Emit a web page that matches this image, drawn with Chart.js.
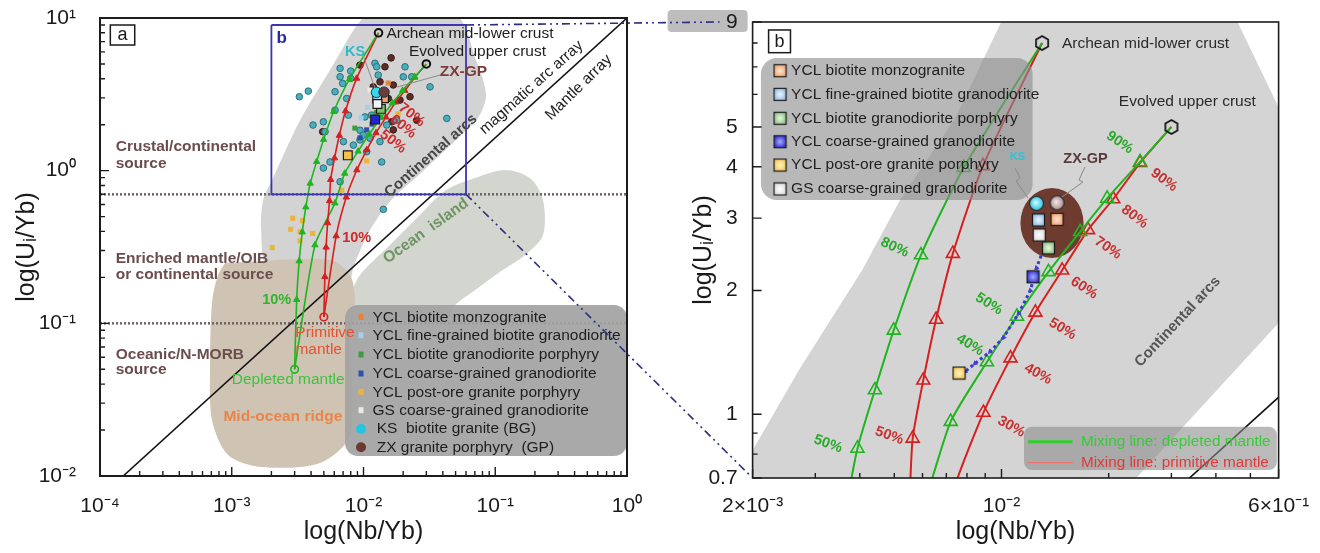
<!DOCTYPE html>
<html lang="en">
<head>
<meta charset="utf-8">
<title>log(U/Yb) vs log(Nb/Yb)</title>
<script src="https://cdn.jsdelivr.net/npm/chart.js@4.4.1/dist/chart.umd.min.js"></script>
<style>
  html, body { margin: 0; padding: 0; background: #ffffff; }
  #stage { position: relative; width: 1320px; height: 553px; overflow: hidden; }
  #stage canvas { position: absolute; left: 0; top: 0; }
</style>
</head>
<body>
<div id="stage">
  <canvas id="panelA" width="1320" height="553"></canvas>
  <canvas id="panelB" width="1320" height="553"></canvas>
</div>
<script>
const FONT = '"Liberation Sans", Arial, Helvetica, sans-serif';

/* ---------- axis ranges and labelled ticks ---------- */
const aXRange = [1e-4, 1];
const aYRange = [0.01, 10];
const bXRange = [0.002, 0.06];
const bYRange = [0.7, 9];
const aXTicks = [1e-4, 1e-3, 1e-2, 1e-1, 1];
const aXTickText = ['10⁻⁴', '10⁻³', '10⁻²', '10⁻¹', '10⁰'];
const aYTicks = [0.01, 0.1, 1, 10];
const aYTickText = ['10⁻²', '10⁻¹', '10⁰', '10¹'];
const bXTicks = [0.002, 0.01, 0.06];
const bXTickText = ['2×10⁻³', '10⁻²', '6×10⁻¹'];
const bYTicks = [0.7, 1, 2, 3, 4, 5, 9];
const bYTickText = ['0.7', '1', '2', '3', '4', '5', '9'];

/* ---------- source boundaries and mantle array ---------- */
const sourceBoundaryU = [0.7, 0.1];
const mantleArrayNb = [1.5e-4, 1];
const mantleArrayU = [0.01, 10];

/* ---------- end-members: Archean crust, upper crust, DM, PM ---------- */
const endNb = [0.013, 0.030, 0.003, 0.005];
const endU = [8.0, 5.0, 0.05, 0.11];

/* ---------- mixing lines, 0 % to 100 % crust in 10 % steps ---------- */
const dmArcNb = [0.0030, 0.00311, 0.00325, 0.00343, 0.00365, 0.00394, 0.00441, 0.00498, 0.00594, 0.00783, 0.0130];
const dmArcU = [0.050, 0.143, 0.256, 0.396, 0.577, 0.826, 1.146, 1.60, 2.44, 3.98, 8.0];
const pmArcNb = [0.0050, 0.00509, 0.0052, 0.00534, 0.00552, 0.00563, 0.00603, 0.00655, 0.0073, 0.00887, 0.0130];
const pmArcU = [0.110, 0.202, 0.315, 0.455, 0.634, 0.874, 1.21, 1.70, 2.46, 4.02, 8.0];
const dmEucNb = [0.0030, 0.00428, 0.00607, 0.0072, 0.0091, 0.01105, 0.01355, 0.01663, 0.0198, 0.0245, 0.030];
const dmEucU = [0.050, 0.326, 0.613, 0.96, 1.34, 1.73, 2.22, 2.78, 3.35, 4.11, 5.0];
const pmEucNb = [0.0050, 0.0062, 0.0074, 0.0089, 0.0106, 0.01245, 0.0148, 0.0175, 0.0206, 0.0245, 0.030];
const pmEucU = [0.110, 0.373, 0.67, 1.01, 1.37, 1.77, 2.24, 2.81, 3.34, 4.09, 5.0];

/* ---------- individual analyses ---------- */
const ksNb = [0.00326, 0.00381, 0.00664, 0.00664, 0.0080, 0.0080, 0.01222, 0.01259, 0.01294, 0.02066, 0.02005, 0.02323, 0.0320, 0.00608, 0.00745, 0.00608, 0.00768, 0.00496, 0.00511, 0.0094, 0.00995, 0.0112, 0.0094, 0.01057, 0.00704, 0.00557, 0.00496, 0.01374, 0.0429, 0.01786, 0.00664, 0.01153, 0.01416, 0.0150, 0.01334, 0.00838, 0.01026, 0.00414, 0.00695];
const ksU = [3.05, 3.32, 4.68, 4.12, 4.49, 4.02, 5.05, 4.79, 4.23, 4.79, 4.12, 4.12, 3.54, 3.29, 2.97, 2.49, 2.31, 2.09, 1.80, 1.84, 1.71, 1.63, 1.59, 1.33, 1.55, 1.14, 1.04, 1.14, 2.20, 2.14, 0.846, 2.31, 0.558, 1.99, 1.55, 1.47, 2.25, 1.99, 3.73];
const zxNb = [0.0162, 0.01455, 0.02254, 0.01637, 0.01683, 0.0049, 0.01334, 0.01683, 0.01186, 0.01542, 0.01892, 0.02535, 0.0094];
const zxU = [5.48, 4.79, 3.05, 2.09, 1.85, 1.80, 3.82, 3.64, 3.54, 2.97, 2.90, 2.14, 4.92];
const monzoNb = [0.0154, 0.0135];
const monzoU = [3.75, 3.2];
const fineNb = [0.00957, 0.0107, 0.0118];
const fineU = [2.21, 2.6, 1.75];
const porphNb = [0.0086, 0.0125];
const porphU = [1.90, 2.4];
const coarseNb = [0.01057, 0.01161, 0.0094];
const coarseU = [1.85, 2.02, 1.64];
const postOreNb = [0.0029, 0.0028, 0.00345, 0.0033, 0.00411, 0.0033, 0.00203, 0.00684, 0.01057, 0.0183];
const postOreU = [0.488, 0.413, 0.47, 0.398, 0.388, 0.347, 0.313, 0.746, 1.16, 2.35];
const gsNb = [0.0112, 0.01406, 0.0125];
const gsU = [3.37, 3.37, 2.9];

/* ---------- group means ---------- */
const groupNames = ['YCL biotite monzogranite', 'YCL fine-grained biotite granodiorite', 'YCL biotite granodiorite porphyry',
  'YCL coarse-grained granodiorite', 'YCL post-ore granite porphyry', 'GS coarse-grained granodiorite',
  'KS  biotite granite (BG)', 'ZX granite porphyry  (GP)'];
const meanNb = [0.01432, 0.0127, 0.01355, 0.01226, 0.0076, 0.01276, 0.01254, 0.01432];
const meanU = [2.98, 2.97, 2.54, 2.16, 1.26, 2.73, 3.26, 3.27];

/* ---------- YCL evolution trend ---------- */
const trendNb = [0.0131, 0.01254, 0.01205, 0.01117, 0.01014, 0.00929, 0.00843, 0.0079];
const trendU = [2.51, 2.27, 2.00, 1.76, 1.54, 1.42, 1.33, 1.27];

/* ---------- tectonic fields ---------- */
const arcFieldNbA = [0.01045, 0.0496, 0.0714, 0.0851, 0.0740, 0.0569, 0.0273, 0.0162, 0.0112, 0.0085, 0.0074, 0.0055, 0.0019, 0.00167, 0.00173, 0.00202, 0.0033, 0.00557, 0.0086, 0.01045];
const arcFieldUA = [10.5, 10.5, 5.3, 3.13, 2.21, 1.76, 0.964, 0.641, 0.408, 0.24, 0.16, 0.22, 0.23, 0.408, 0.641, 0.867, 2.14, 4.56, 8.6, 10.5];
const ridgeNb = [0.00089, 0.00557, 0.0079, 0.0086, 0.0079, 0.0079, 0.00468, 0.00167, 0.000937, 0.000708, 0.000684, 0.000708, 0.000787, 0.00089];
const ridgeU = [0.248, 0.26, 0.207, 0.142, 0.0778, 0.0186, 0.01217, 0.01146, 0.01374, 0.0233, 0.0494, 0.136, 0.207, 0.248];
const oibNb = [0.00818, 0.0079, 0.0094, 0.0159, 0.0268, 0.0423, 0.0701, 0.1186, 0.1837, 0.2304, 0.2304, 0.1683, 0.1086, 0.0701, 0.0496, 0.0416, 0.00818];
const oibU = [0.105, 0.142, 0.207, 0.326, 0.512, 0.746, 0.894, 1.01, 0.894, 0.641, 0.379, 0.28, 0.217, 0.165, 0.132, 0.105, 0.105];
const arcFieldNbB = [0.002, 0.002, 0.00272, 0.00406, 0.00519, 0.00741, 0.00998, 0.046, 0.06, 0.06, 0.0239, 0.002];
const arcFieldUB = [0.7, 0.818, 1.296, 2.24, 3.32, 5.25, 9.0, 9.0, 5.58, 1.667, 0.7, 0.7];
/* ZX-GP / KS cluster outline */
const clusterNb = [0.0113, 0.0170];
const clusterU = [2.40, 3.55];

/* ---------- helpers ---------- */
const xy = (xs, ys) => xs.map((x, i) => ({ x, y: ys[i] }));

function labelFor(values, texts) {
  return (v) => {
    for (let i = 0; i < values.length; i++) {
      if (Math.abs(Math.log10(v) - Math.log10(values[i])) < 1e-6) return texts[i];
    }
    return '';
  };
}
function decadeTicks(scale) {
  const out = [];
  const lo = scale.min, hi = scale.max;
  for (let e = Math.floor(Math.log10(lo)); e <= Math.ceil(Math.log10(hi)); e++) {
    for (let m = 1; m <= 9; m++) {
      const v = parseFloat((m * Math.pow(10, e)).toPrecision(8));
      if (v >= lo * (1 - 1e-9) && v <= hi * (1 + 1e-9)) out.push({ value: v });
    }
  }
  scale.ticks = out;
}
function logAxis(range, tv, tt, title, o) {
  return {
    type: 'logarithmic', min: range[0], max: range[1], bounds: 'data',
    afterBuildTicks: decadeTicks,
    afterFit: (s) => {
      if (o.width) s.width = o.width;
      if (o.height) s.height = o.height;
      s.paddingTop = 0; s.paddingBottom = 0; s.paddingLeft = 0; s.paddingRight = 0;
    },
    grid: { display: false, drawTicks: false },
    border: { display: false },
    ticks: { autoSkip: false, maxRotation: 0, minRotation: 0, padding: o.pad, color: '#1a1a1a',
      font: { family: FONT, size: 21 }, callback: labelFor(tv, tt) },
    title: { display: true, text: title, color: '#1a1a1a', font: { family: FONT, size: 25 }, padding: o.titlePad }
  };
}
function region(xs, ys, color, order, tension) {
  return { data: xy(xs, ys), showLine: true, fill: 'shape', backgroundColor: color,
    borderColor: 'rgba(0,0,0,0)', borderWidth: 0, pointRadius: 0, tension: tension, order: order };
}
function mixLine(xs, ys, color, o) {
  const n = xs.length;
  return { data: xy(xs, ys), showLine: true, fill: false, borderColor: color, borderWidth: o.lw, tension: 0.2,
    pointStyle: 'triangle', pointRadius: xs.map((_, i) => (i === 0 || i === n - 1) ? 0 : o.r),
    pointBackgroundColor: o.hollow ? 'rgba(0,0,0,0)' : color, pointBorderColor: color,
    pointBorderWidth: o.pbw, order: o.order };
}
function marks(xs, ys, o) {
  return { data: xy(xs, ys), showLine: false, pointStyle: o.style, pointRadius: o.r,
    pointBackgroundColor: o.fill, pointBorderColor: o.edge || o.fill, pointBorderWidth: o.bw || 0,
    pointRotation: o.rot || 0, order: o.order };
}
function straight(xs, ys, color, lw, dash, order) {
  return { data: xy(xs, ys), showLine: true, fill: false, borderColor: color, borderWidth: lw,
    borderDash: dash || [], pointRadius: 0, tension: 0, order: order };
}
function gradSquare(side, inner, outer) {
  const c = document.createElement('canvas'); const s = side + 2; c.width = c.height = s;
  const g = c.getContext('2d');
  const gr = g.createRadialGradient(s / 2, s / 2, 0, s / 2, s / 2, side * 0.65);
  gr.addColorStop(0, inner); gr.addColorStop(1, outer);
  g.fillStyle = gr; g.fillRect(1, 1, side, side);
  g.lineWidth = 1.2; g.strokeStyle = '#1a1a1a'; g.strokeRect(1.5, 1.5, side - 1, side - 1);
  return c;
}
function gradDisc(d, inner, outer, edge) {
  const c = document.createElement('canvas'); const s = d + 2; c.width = c.height = s;
  const g = c.getContext('2d');
  const gr = g.createRadialGradient(s / 2 - 1, s / 2 - 1, 0, s / 2, s / 2, d / 2);
  gr.addColorStop(0, inner); gr.addColorStop(1, outer);
  g.beginPath(); g.arc(s / 2, s / 2, d / 2 - 0.5, 0, Math.PI * 2);
  g.fillStyle = gr; g.fill(); g.lineWidth = 1.2; g.strokeStyle = edge; g.stroke();
  return c;
}
function hexMark(r) {
  const c = document.createElement('canvas'); const s = Math.ceil(2 * r + 4); c.width = c.height = s;
  const g = c.getContext('2d');
  g.beginPath();
  for (let i = 0; i < 6; i++) {
    const a = -Math.PI / 2 + i * Math.PI / 3;
    const x = s / 2 + r * Math.cos(a), y = s / 2 + r * Math.sin(a);
    if (i) g.lineTo(x, y); else g.moveTo(x, y);
  }
  g.closePath(); g.lineWidth = 1.7; g.strokeStyle = '#111'; g.stroke();
  return c;
}
function roundRect(ctx, x, y, w, h, r) {
  ctx.beginPath();
  ctx.moveTo(x + r, y);
  ctx.arcTo(x + w, y, x + w, y + h, r);
  ctx.arcTo(x + w, y + h, x, y + h, r);
  ctx.arcTo(x, y + h, x, y, r);
  ctx.arcTo(x, y, x + w, y, r);
  ctx.closePath();
}
const fxPx = (ca, f) => ca.left + f * ca.width;
const fyPx = (ca, f) => ca.top + f * ca.height;
function drawNotes(ctx, ca, list) {
  list.forEach(a => {
    ctx.save();
    ctx.translate(fxPx(ca, a.fx), fyPx(ca, a.fy));
    if (a.rot) ctx.rotate(a.rot * Math.PI / 180);
    ctx.font = (a.bold ? 'bold ' : '') + a.size + 'px ' + FONT;
    ctx.fillStyle = a.color;
    ctx.textAlign = a.align || 'center';
    ctx.textBaseline = 'middle';
    ctx.fillText(a.t, 0, 0);
    ctx.restore();
  });
}
function drawPolyline(ctx, ca, pts, color, lw) {
  ctx.save(); ctx.strokeStyle = color; ctx.lineWidth = lw; ctx.beginPath();
  pts.forEach((p, i) => { const x = fxPx(ca, p[0]), y = fyPx(ca, p[1]); if (i) ctx.lineTo(x, y); else ctx.moveTo(x, y); });
  ctx.stroke(); ctx.restore();
}
function drawFrameAndTicks(chart, lw) {
  const { ctx, chartArea: ca, scales } = chart;
  ctx.save();
  ctx.strokeStyle = '#1c1c1c';
  ctx.lineWidth = 1.4;
  ctx.beginPath();
  scales.x.ticks.forEach(t => {
    const x = scales.x.getPixelForValue(t.value);
    const len = t.label ? 9 : 5;
    ctx.moveTo(x, ca.bottom); ctx.lineTo(x, ca.bottom - len);
  });
  scales.y.ticks.forEach(t => {
    const y = scales.y.getPixelForValue(t.value);
    const len = t.label ? 9 : 5;
    ctx.moveTo(ca.left, y); ctx.lineTo(ca.left + len, y);
  });
  ctx.stroke();
  ctx.lineWidth = lw;
  ctx.strokeRect(ca.left, ca.top, ca.width, ca.height);
  ctx.restore();
}
function panelTag(ctx, ca, box, letter) {
  const x0 = fxPx(ca, box[0]), y0 = fyPx(ca, box[1]), x1 = fxPx(ca, box[2]), y1 = fyPx(ca, box[3]);
  ctx.save();
  ctx.fillStyle = '#ffffff'; ctx.fillRect(x0, y0, x1 - x0, y1 - y0);
  ctx.strokeStyle = '#1a1a1a'; ctx.lineWidth = 1.5; ctx.strokeRect(x0, y0, x1 - x0, y1 - y0);
  ctx.fillStyle = '#1a1a1a'; ctx.font = '18px ' + FONT; ctx.textAlign = 'center'; ctx.textBaseline = 'middle';
  ctx.fillText(letter, (x0 + x1) / 2, (y0 + y1) / 2 + 0.5);
  ctx.restore();
}

/* ---------- marker styles ---------- */
const GREEN = '#1fb51f';
const RED = '#d61f1f';
const smallSquareColors = ['#e8833a', '#a9cdea', '#3f9b3f', '#2f4fb0', '#ebb43a', '#ece8e2'];
const meanFillsA = ['#f0a066', '#a7cdee', '#7cbf6c', '#2424d0', '#f4c24a', '#f4f4f4', '#3ad6ee', '#6a3d38'];
const gradColorsB = [['#fde4d0', '#f29660'], ['#eef6ff', '#7aaee0'], ['#eaf7e4', '#74b866'], ['#a8acff', '#1212c4'],
  ['#fff6c8', '#f2bc36'], ['#ffffff', '#d4d4d4'], ['#d6fbff', '#1cc4e6'], ['#f6ecec', '#a88a8a']];
const meanImagesB = gradColorsB.map((c, i) => i < 6 ? gradSquare(13, c[0], c[1]) : gradDisc(15, c[0], c[1], '#2a2a2a'));
const hexImage = hexMark(7);

/* ---------- annotations (positions as fractions of the plot area) ---------- */
const notesA = [
  { t: 'Archean mid-lower crust', fx: .5435, fy: .0334, align: 'left', size: 15.5, color: '#1e1e1e' },
  { t: 'Evolved upper crust', fx: .5863, fy: .0736, align: 'left', size: 15.5, color: '#1e1e1e' },
  { t: 'ZX-GP', fx: .6448, fy: .117, align: 'left', size: 15.5, bold: true, color: '#7a3c3c' },
  { t: 'KS', fx: .484, fy: .0736, size: 14.5, bold: true, color: '#2fb9cc' },
  { t: 'b', fx: .345, fy: .0443, size: 17, bold: true, color: '#2a2aa0' },
  { t: '70%', fx: .5914, fy: .2118, size: 14.5, bold: true, color: '#d02a2a', rot: 38 },
  { t: '60%', fx: .575, fy: .2373, size: 14.5, bold: true, color: '#d02a2a', rot: 38 },
  { t: '50%', fx: .556, fy: .270, size: 14.5, bold: true, color: '#d02a2a', rot: 38 },
  { t: '10%', fx: .487, fy: .481, size: 14.5, bold: true, color: '#d02a2a' },
  { t: '10%', fx: .3353, fy: .6157, size: 14.5, bold: true, color: '#2fb52f' },
  { t: 'Crustal/continental', fx: .0298, fy: .281, align: 'left', size: 15.5, bold: true, color: '#6b4d4d' },
  { t: 'source', fx: .0298, fy: .3173, align: 'left', size: 15.5, bold: true, color: '#6b4d4d' },
  { t: 'Enriched mantle/OIB', fx: .0298, fy: .5247, align: 'left', size: 15.5, bold: true, color: '#6b4d4d' },
  { t: 'or continental source', fx: .0298, fy: .561, align: 'left', size: 15.5, bold: true, color: '#6b4d4d' },
  { t: 'Oceanic/N-MORB', fx: .0298, fy: .7358, align: 'left', size: 15.5, bold: true, color: '#6b4d4d' },
  { t: 'source', fx: .0298, fy: .7686, align: 'left', size: 15.5, bold: true, color: '#6b4d4d' },
  { t: 'Ocean  island', fx: .6186, fy: .465, rot: -35.6, size: 15.5, bold: true, color: '#6f9462' },
  { t: 'Continental arcs', fx: .628, fy: .301, rot: -41.4, size: 15, bold: true, color: '#454545' },
  { t: 'magmatic arc array', fx: .8186, fy: .1517, rot: -41.6, size: 15.5, color: '#222' },
  { t: 'Mantle array', fx: .9083, fy: .1517, rot: -44.4, size: 15.5, color: '#222' },
  { t: 'Depleted mantle', fx: .357, fy: .790, size: 15.5, color: '#3ec23e' },
  { t: 'Mid-ocean ridge', fx: .347, fy: .8705, size: 15.5, bold: true, color: '#ea8448' },
  { t: 'Primitive', fx: .427, fy: .688, size: 15.5, color: '#e8502e' },
  { t: 'mantle', fx: .415, fy: .725, size: 15.5, color: '#e8502e' }
];
const notesB = [
  { t: 'Archean mid-lower crust', fx: .5882, fy: .0467, align: 'left', size: 15.5, color: '#2a2a2a' },
  { t: 'Evolved upper crust', fx: .6962, fy: .1748, align: 'left', size: 15.5, color: '#2a2a2a' },
  { t: 'ZX-GP', fx: .5907, fy: .3011, align: 'left', size: 14.5, bold: true, color: '#5a3a3a' },
  { t: 'KS', fx: .5036, fy: .2954, size: 11, bold: true, color: '#22c8e0' },
  { t: 'Continental arcs', fx: .8082, fy: .6572, rot: -46.9, size: 15, bold: true, color: '#555555' },
  { t: '90%', fx: .698, fy: .2643, rot: 34, size: 14.5, bold: true, color: '#2aa82a' },
  { t: '90%', fx: .7821, fy: .3465, rot: 36, size: 14.5, bold: true, color: '#c83030' },
  { t: '80%', fx: .7262, fy: .427, rot: 37, size: 14.5, bold: true, color: '#c83030' },
  { t: '70%', fx: .6757, fy: .4956, rot: 34, size: 14.5, bold: true, color: '#c83030' },
  { t: '60%', fx: .630, fy: .5833, rot: 33, size: 14.5, bold: true, color: '#c83030' },
  { t: '50%', fx: .5892, fy: .6732, rot: 31, size: 14.5, bold: true, color: '#c83030' },
  { t: '40%', fx: .5426, fy: .7719, rot: 29, size: 14.5, bold: true, color: '#c83030' },
  { t: '30%', fx: .492, fy: .8875, rot: 29, size: 14.5, bold: true, color: '#c83030' },
  { t: '50%', fx: .4494, fy: .6184, rot: 32, size: 14.5, bold: true, color: '#2aa82a' },
  { t: '40%', fx: .4133, fy: .7083, rot: 31, size: 14.5, bold: true, color: '#2aa82a' },
  { t: '80%', fx: .270, fy: .4945, rot: 25, size: 14.5, bold: true, color: '#2aa82a' },
  { t: '50%', fx: .1433, fy: .9254, rot: 20, size: 14.5, bold: true, color: '#2aa82a' },
  { t: '50%', fx: .260, fy: .907, rot: 20, size: 14.5, bold: true, color: '#c83030' }
];

/* ---------- panel a ---------- */
const panelAPlugin = {
  id: 'panelA',
  afterDatasetsDraw(chart) {
    const { ctx, chartArea: ca } = chart;
    // leader lines for KS and ZX-GP
    drawPolyline(ctx, ca, [[.499, .0808], [.5218, .1528]], '#8a8a8a', 1);
    drawPolyline(ctx, ca, [[.6452, .1245], [.5636, .1507]], '#8a8a8a', 1);
    // legend
    const x0 = fxPx(ca, .465), y0 = fyPx(ca, .6266), x1 = fxPx(ca, 1.0), y1 = fyPx(ca, .9563);
    ctx.save();
    roundRect(ctx, x0, y0, x1 - x0, y1 - y0, 13);
    ctx.fillStyle = 'rgba(163,163,163,0.93)'; ctx.fill();
    const rows = [.6535, .6937, .7358, .7773, .8173, .8574, .8974, .9373];
    ctx.font = '15.5px ' + FONT; ctx.textBaseline = 'middle'; ctx.textAlign = 'left';
    groupNames.forEach((name, i) => {
      const y = fyPx(ca, rows[i]); const mx = fxPx(ca, .4953);
      if (i < 6) {
        ctx.fillStyle = smallSquareColors[i]; ctx.fillRect(mx - 2.5, y - 3.5, 5, 6);
      } else {
        ctx.beginPath(); ctx.arc(mx, y, 5, 0, Math.PI * 2);
        ctx.fillStyle = i === 6 ? '#22c6e2' : '#6a3a30'; ctx.fill();
      }
      ctx.fillStyle = '#1e1e1e';
      ctx.fillText(name, fxPx(ca, i < 6 ? .5171 : .525), y);
    });
    ctx.restore();
    drawNotes(ctx, ca, notesA);
    panelTag(ctx, ca, [.0196, .0153, .0659, .059], 'a');
  },
  afterDraw(chart) { drawFrameAndTicks(chart, 2); }
};

const chartA = new Chart(document.getElementById('panelA'), {
  type: 'scatter',
  data: {
    datasets: [
      region(arcFieldNbA, arcFieldUA, '#d3d3d3', 99, 0.3),
      region(oibNb, oibU, '#d2d6ce', 98, 0.3),
      region(ridgeNb, ridgeU, '#cfc4b4', 97, 0.3),
      straight([aXRange[0], aXRange[1]], [sourceBoundaryU[0], sourceBoundaryU[0]], '#6e6262', 2.5, [2, 2], 85),
      straight([aXRange[0], aXRange[1]], [sourceBoundaryU[1], sourceBoundaryU[1]], '#6e6262', 2.5, [2, 2], 85),
      straight(mantleArrayNb, mantleArrayU, '#111111', 1.6, [], 84),
      marks(ksNb, ksU, { style: 'circle', r: 3.3, fill: '#4aaebd', edge: '#2b6f7a', bw: 1, order: 50 }),
      marks(zxNb, zxU, { style: 'circle', r: 3.3, fill: '#5c2c28', edge: '#3a1a18', bw: 1, order: 50 }),
      marks(monzoNb, monzoU, { style: 'rect', r: 3.6, fill: smallSquareColors[0], order: 49 }),
      marks(fineNb, fineU, { style: 'rect', r: 3.6, fill: smallSquareColors[1], order: 49 }),
      marks(porphNb, porphU, { style: 'rect', r: 3.6, fill: smallSquareColors[2], order: 49 }),
      marks(coarseNb, coarseU, { style: 'rect', r: 3.6, fill: smallSquareColors[3], order: 49 }),
      marks(postOreNb, postOreU, { style: 'rect', r: 3.6, fill: smallSquareColors[4], order: 49 }),
      marks(gsNb, gsU, { style: 'rect', r: 3.6, fill: smallSquareColors[5], order: 49 }),
      mixLine(dmArcNb, dmArcU, GREEN, { lw: 1.6, r: 3.6, pbw: 1, order: 40 }),
      mixLine(pmArcNb, pmArcU, RED, { lw: 1.6, r: 3.6, pbw: 1, order: 40 }),
      mixLine(dmEucNb, dmEucU, GREEN, { lw: 1.6, r: 3.6, pbw: 1, order: 40 }),
      mixLine(pmEucNb, pmEucU, RED, { lw: 1.6, r: 3.6, pbw: 1, order: 40 }),
      marks(endNb.slice(0, 2), endU.slice(0, 2), { style: 'circle', r: 3.8, fill: 'rgba(0,0,0,0)', edge: '#111', bw: 2, order: 30 }),
      marks([endNb[2]], [endU[2]], { style: 'circle', r: 3.8, fill: 'rgba(0,0,0,0)', edge: GREEN, bw: 1.6, order: 30 }),
      marks([endNb[3]], [endU[3]], { style: 'circle', r: 3.8, fill: 'rgba(0,0,0,0)', edge: RED, bw: 1.6, order: 30 }),
      marks(meanNb.slice(0, 6), meanU.slice(0, 6), { style: 'rect', r: 6.2, fill: meanFillsA.slice(0, 6), edge: '#1a1a1a', bw: 1.2, order: 10 }),
      marks(meanNb.slice(6), meanU.slice(6), { style: 'circle', r: 5.2, fill: meanFillsA.slice(6), edge: '#1a3a40', bw: 1, order: 9 }),
      straight([bXRange[0], bXRange[1], bXRange[1], bXRange[0], bXRange[0]], [bYRange[1], bYRange[1], bYRange[0], bYRange[0], bYRange[1]], '#3a36b0', 1.8, [], 3)
    ]
  },
  options: {
    animation: false, responsive: false, maintainAspectRatio: false, devicePixelRatio: 1, events: [],
    layout: { padding: { left: 8, right: 693, top: 18, bottom: 4 } },
    plugins: { legend: { display: false }, tooltip: { enabled: false } },
    scales: {
      x: logAxis(aXRange, aXTicks, aXTickText, 'log(Nb/Yb)', { height: 73, pad: 18, titlePad: { top: 0, bottom: 2 } }),
      y: logAxis(aYRange, aYTicks, aYTickText, 'log(Uᵢ/Yb)', { width: 92, pad: 24, titlePad: { top: 4, bottom: 0 } })
    }
  },
  plugins: [panelAPlugin]
});

/* ---------- panel b ---------- */
const panelBPlugin = {
  id: 'panelB',
  beforeDraw(chart) {
    const { ctx, chartArea: ca } = chart;
    const sa = chartA.scales, sb = chart.scales;
    // grey tab behind the top tick value
    ctx.save();
    roundRect(ctx, ca.left - 85, ca.top - 12, 80, 22, 4);
    ctx.fillStyle = '#bdbdbd'; ctx.fill();
    // zoom connectors from the box in panel a
    ctx.strokeStyle = '#2c2c80'; ctx.lineWidth = 1.6; ctx.setLineDash([8, 4, 2, 4, 2, 4]);
    ctx.beginPath();
    ctx.moveTo(sa.x.getPixelForValue(bXRange[1]), sa.y.getPixelForValue(bYRange[1]));
    ctx.lineTo(ca.left - 33, sb.y.getPixelForValue(bYRange[1]));
    ctx.moveTo(sa.x.getPixelForValue(bXRange[1]), sa.y.getPixelForValue(bYRange[0]));
    ctx.lineTo(sb.x.getPixelForValue(bXRange[0]) - 2, sb.y.getPixelForValue(bYRange[0]) - 2);
    ctx.stroke();
    ctx.restore();
  },
  afterDatasetDraw(chart, args) {
    if (args.index !== 0) return;
    const { ctx, scales } = chart;
    const x0 = scales.x.getPixelForValue(clusterNb[0]), x1 = scales.x.getPixelForValue(clusterNb[1]);
    const y0 = scales.y.getPixelForValue(clusterU[1]), y1 = scales.y.getPixelForValue(clusterU[0]);
    ctx.save();
    ctx.beginPath();
    ctx.ellipse((x0 + x1) / 2, (y0 + y1) / 2, (x1 - x0) / 2, (y1 - y0) / 2, 0, 0, Math.PI * 2);
    ctx.fillStyle = '#6e3b31'; ctx.fill();
    ctx.restore();
  },
  afterDatasetsDraw(chart) {
    const { ctx, chartArea: ca } = chart;
    // leader lines
    drawPolyline(ctx, ca, [[.4988, .3202], [.5083, .3421], [.5008, .3487], [.5236, .386]], '#8a8a8a', 1);
    drawPolyline(ctx, ca, [[.6319, .318], [.6205, .3465], [.6281, .3509], [.5882, .3838]], '#8a8a8a', 1);
    // sample legend
    ctx.save();
    const x0 = fxPx(ca, .0158), y0 = fyPx(ca, .0789), x1 = fxPx(ca, .5323), y1 = fyPx(ca, .3904);
    roundRect(ctx, x0, y0, x1 - x0, y1 - y0, 16);
    ctx.fillStyle = 'rgba(140,140,140,0.62)'; ctx.fill();
    const rows = [.1068, .1586, .2112, .2625, .3136, .3662];
    ctx.font = '15.5px ' + FONT; ctx.textBaseline = 'middle'; ctx.textAlign = 'left'; ctx.fillStyle = '#1e1e1e';
    rows.forEach((r, i) => {
      const y = fyPx(ca, r), mx = fxPx(ca, .0521);
      const img = meanImagesB[i];
      ctx.drawImage(img, mx - img.width / 2, y - img.height / 2);
      ctx.fillText(groupNames[i], fxPx(ca, .0732), y);
    });
    // mixing-line legend
    const m0 = fxPx(ca, .516), n0 = fyPx(ca, .8875), m1 = fxPx(ca, .9966), n1 = fyPx(ca, .9825);
    roundRect(ctx, m0, n0, m1 - m0, n1 - n0, 8);
    ctx.fillStyle = 'rgba(140,140,140,0.6)'; ctx.fill();
    const r1 = fyPx(ca, .9204), r2 = fyPx(ca, .9664);
    ctx.lineWidth = 3; ctx.strokeStyle = '#2ed02e';
    ctx.beginPath(); ctx.moveTo(fxPx(ca, .5236), r1); ctx.lineTo(fxPx(ca, .6082), r1); ctx.stroke();
    ctx.lineWidth = 1.2; ctx.strokeStyle = '#f07070';
    ctx.beginPath(); ctx.moveTo(fxPx(ca, .5236), r2); ctx.lineTo(fxPx(ca, .6082), r2); ctx.stroke();
    ctx.font = '15.3px ' + FONT;
    ctx.fillStyle = '#35cc35'; ctx.fillText('Mixing line: depleted mantle', fxPx(ca, .6243), r1);
    ctx.fillStyle = '#e03a3a'; ctx.fillText('Mixing line: primitive mantle', fxPx(ca, .6243), r2);
    ctx.restore();
    drawNotes(ctx, ca, notesB);
    panelTag(ctx, ca, [.0304, .0175, .072, .0673], 'b');
  },
  afterDraw(chart) { drawFrameAndTicks(chart, 1.6); }
};

const chartB = new Chart(document.getElementById('panelB'), {
  type: 'scatter',
  data: {
    datasets: [
      region(arcFieldNbB, arcFieldUB, '#d4d4d4', 99, 0),
      straight(mantleArrayNb, mantleArrayU, '#111111', 1.6, [], 84),
      mixLine(dmArcNb, dmArcU, GREEN, { lw: 2, r: 7.5, pbw: 1.6, hollow: true, order: 40 }),
      mixLine(pmArcNb, pmArcU, RED, { lw: 2, r: 7.5, pbw: 1.6, hollow: true, order: 40 }),
      mixLine(dmEucNb, dmEucU, GREEN, { lw: 2, r: 7.5, pbw: 1.6, hollow: true, order: 40 }),
      mixLine(pmEucNb, pmEucU, RED, { lw: 2, r: 7.5, pbw: 1.6, hollow: true, order: 40 }),
      marks(endNb.slice(0, 2), endU.slice(0, 2), { style: hexImage, r: 7, fill: 'rgba(0,0,0,0)', order: 30 }),
      straight(trendNb, trendU, '#3a3ad0', 3, [3, 3], 20),
      marks(trendNb.slice(1), trendU.slice(1), { style: 'triangle', r: 3.2, fill: '#4040d8', rot: 225, order: 19 }),
      marks(meanNb, meanU, { style: meanImagesB, r: 7, fill: 'rgba(0,0,0,0)', order: 10 })
    ]
  },
  options: {
    animation: false, responsive: false, maintainAspectRatio: false, devicePixelRatio: 1, events: [],
    layout: { padding: { left: 685, right: 41.4, top: 22, bottom: 4 } },
    plugins: { legend: { display: false }, tooltip: { enabled: false } },
    scales: {
      x: logAxis(bXRange, bXTicks, bXTickText, 'log(Nb/Yb)', { height: 71, pad: 16, titlePad: { top: 0, bottom: 2 } }),
      y: logAxis(bYRange, bYTicks, bYTickText, 'log(Uᵢ/Yb)', { width: 67.6, pad: 15, titlePad: { top: 4, bottom: 0 } })
    }
  },
  plugins: [panelBPlugin]
});
</script>
</body>
</html>
